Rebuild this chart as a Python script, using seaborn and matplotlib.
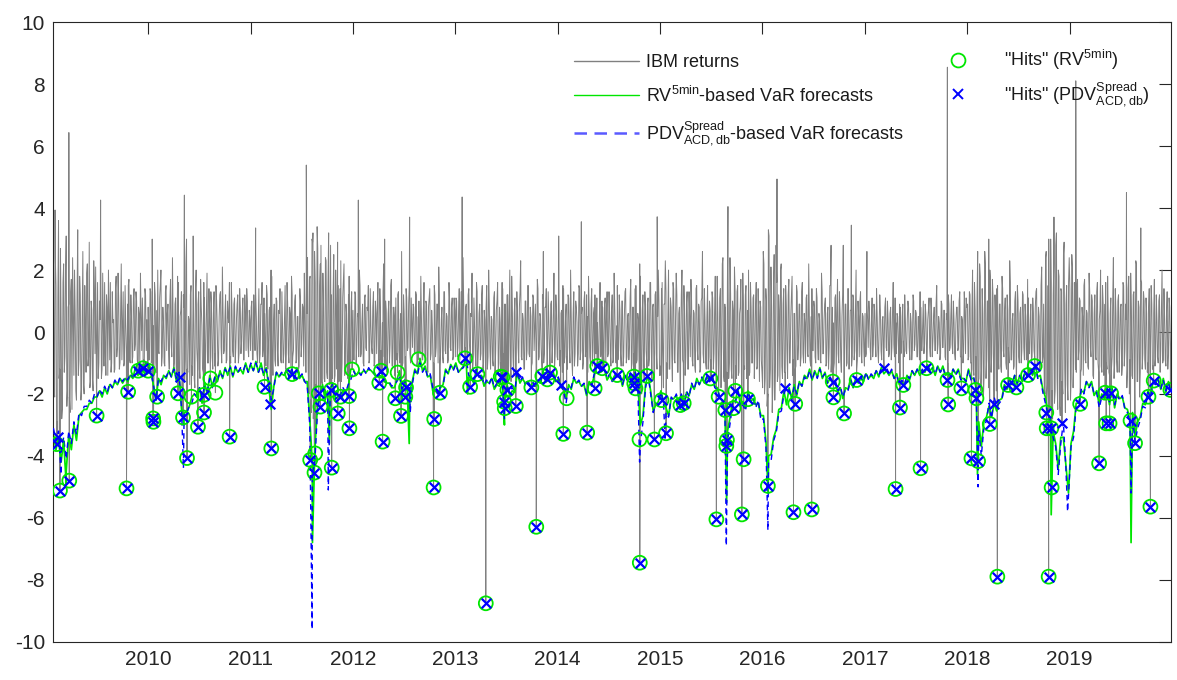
import numpy as np
import pandas as pd
import matplotlib
matplotlib.use("Agg")
import matplotlib.pyplot as plt
from matplotlib.lines import Line2D
import seaborn as sns

# ---------------- data ----------------
X_START, X_END = 2009.074, 2019.99
YEAR_TICKS = [2010, 2011, 2012, 2013, 2014, 2015, 2016, 2017, 2018, 2019]
Y_TICKS = [-10, -8, -6, -4, -2, 0, 2, 4, 6, 8, 10]

# daily returns, sampled (about 80 values per year, two interleaved sets)
ret_2009 = [2.8,-2.1,1.5,-2.9,3.6,-1.2,0.4,-2.5,2.2,-0.8,3.1,-1.9,0.9,-2.6,1.7,2.4,-1.4,0.6,-2.2,3.3,
            -0.9,1.2,-1.8,2.6,-2.0,0.3,1.9,-1.1,2.9,-1.6,0.7,-1.9,1.4,2.1,-0.6,-1.5,1.0,2.5,-1.2,0.2,
            1.6,-1.4,0.8,2.0,-0.9,-1.3,1.3,0.4,-1.2,1.8,-0.5,1.1,-1.0,2.2,0.3,-1.1,1.5,-0.7,0.9,1.7,
            -1.0,0.5,-0.8,1.4,-0.4,1.0,-1.1,0.6,1.9,-0.6,0.2,-1.0,1.2,0.4]
ret_2010 = [0.8,-0.9,1.3,-0.5,0.2,1.6,-1.0,0.7,-0.6,1.1,2.0,-0.8,0.3,-1.1,1.5,0.6,-0.7,1.0,-0.4,2.4,
            -1.2,0.9,-1.4,1.8,-1.0,0.5,1.3,-1.4,0.8,-0.9,3.0,-1.3,0.4,1.2,-1.1,0.7,-1.5,1.4,-0.5,0.9,
            -1.2,1.7,0.2,-1.3,1.1,-0.6,1.9,-1.0,0.4,1.3,-0.8,0.6,-1.1,1.5,0.1,-0.9,1.2,-0.5,2.1,-0.7,
            0.5,-1.0,1.0,0.3,-0.8,1.6,-0.6,0.9,-1.0,0.4,1.2,-0.7,0.8,-0.3,1.1,-0.9,0.6,1.4,-0.5,0.7]
ret_2011 = [-0.6,1.0,-0.9,0.5,1.3,-0.7,0.3,-1.0,0.9,1.6,-0.5,0.6,-1.1,1.2,-0.4,0.8,2.0,-0.8,0.4,-0.9,
            1.1,-0.6,0.7,1.4,-1.0,0.2,-0.7,1.5,-0.5,0.9,-1.0,0.6,1.8,-0.8,0.3,1.2,-0.9,0.5,-1.1,1.0,
            -0.4,0.8,1.9,-1.3,0.6,-1.2,1.7,-2.2,3.0,-2.8,2.6,-1.7,3.4,-2.4,1.5,2.8,-1.7,0.9,-1.6,2.3,
            -1.5,3.2,-1.6,1.2,-1.5,2.5,-1.4,0.8,2.9,-1.6,1.4,-1.6,1.1,2.2,-1.3,0.6,-1.5,1.8,-1.0,1.3]
ret_2012 = [0.7,-0.9,1.2,-0.4,0.5,2.0,-0.8,0.3,-1.0,1.1,-0.5,0.8,1.5,-0.9,0.2,-0.7,1.3,-1.0,0.6,0.9,
            -1.1,1.4,-0.6,0.3,2.2,-1.2,0.7,-0.8,1.0,-0.4,1.7,-1.1,0.5,0.8,-0.9,1.2,-0.6,0.4,2.6,-1.0,
            0.6,-0.8,1.1,-0.5,1.5,-1.0,0.3,0.9,-0.7,1.3,-1.1,0.5,-0.6,1.8,-0.9,0.7,-0.4,1.0,-1.2,0.8,
            1.4,-0.7,0.2,-1.0,1.2,-0.5,0.9,2.1,-1.1,0.4,-0.8,1.3,-0.6,0.6,-1.0,1.6,-0.5,0.8,-0.9,1.1]
ret_2013 = [-0.8,1.0,-0.5,1.4,0.3,-0.7,2.4,-0.6,0.8,-1.0,1.2,-0.4,0.6,1.9,-0.8,0.2,-1.1,1.3,-0.5,0.9,
            -0.7,1.5,-1.0,0.4,0.8,-1.2,2.0,-0.6,0.5,-0.9,1.1,-1.3,0.7,1.6,-1.0,0.3,-1.2,1.4,-0.7,0.9,
            -1.2,1.2,0.4,-1.1,1.8,-0.8,0.6,-1.0,1.3,-0.5,0.8,2.3,-0.9,0.4,-1.2,1.0,-0.6,1.5,-0.8,0.5,
            -1.0,1.1,0.2,-0.7,1.7,-0.9,0.6,-0.5,1.2,-1.0,0.8,1.4,-0.6,0.3,-0.9,1.0,-0.4,1.9,-0.7,0.6]
ret_2014 = [-0.9,1.1,-0.6,0.7,1.5,-1.0,0.4,-0.8,1.2,-0.5,2.0,-0.9,0.6,-1.1,1.0,0.3,-0.7,1.4,-0.6,0.8,
            -1.0,1.3,-0.4,0.5,1.8,-0.8,0.9,-1.1,0.6,1.2,-0.7,0.3,-0.9,1.6,-0.5,0.8,-1.0,1.1,0.4,-0.8,
            1.3,-0.6,0.7,-1.0,1.9,-0.5,0.2,-0.9,1.2,-0.7,1.0,-1.1,0.5,1.4,-0.8,0.6,-0.4,1.7,-1.0,0.8,
            -1.2,1.5,-0.9,0.4,2.2,-1.2,0.7,-1.0,1.3,-0.6,0.9,-1.1,1.6,-0.5,0.8,-0.9,1.2,-0.7,0.5,1.0]
ret_2015 = [-1.1,1.4,-0.6,0.9,2.3,-1.0,0.5,-1.2,1.1,-0.7,1.6,-0.9,0.4,1.2,-1.3,0.8,-0.5,2.0,-1.0,0.6,
            -0.8,1.3,-1.2,0.5,1.7,-0.9,0.7,-1.1,1.4,-0.6,0.9,-1.3,1.0,2.6,-1.0,0.4,-1.2,1.5,-0.8,0.7,
            -1.4,1.1,-0.7,1.8,-1.2,0.6,-1.0,1.4,-0.5,2.4,-1.6,0.8,-1.3,1.9,-1.0,1.2,-1.5,0.7,2.1,-1.1,
            1.3,-1.4,0.6,1.7,-1.0,0.9,-1.2,1.5,-0.7,2.0,-1.3,0.8,-1.0,1.2,-0.6,1.6,-1.1,0.5,1.0,-0.9]
ret_2016 = [-1.8,2.2,-1.5,1.0,-2.0,3.1,-1.2,0.8,-1.7,2.5,-1.0,1.6,-1.4,0.7,2.0,-1.1,0.9,-1.3,1.5,-0.6,
            1.2,-1.0,0.5,1.8,-0.9,0.6,-1.1,1.3,-0.4,0.9,-0.8,1.6,-1.0,0.3,1.1,-0.7,2.2,-0.9,0.5,-0.6,
            1.0,-0.8,1.4,-0.5,0.6,-0.9,1.9,-0.7,0.4,1.1,-1.0,0.8,-0.5,1.5,-0.8,0.3,-1.0,1.2,0.6,-0.7,
            1.3,-0.9,0.5,2.8,-0.6,0.9,-1.0,1.4,-0.4,0.7,-0.8,1.1,-0.6,2.0,-0.9,0.5,1.0,-0.7,0.6,-0.5]
ret_2017 = [0.6,-0.7,0.4,1.0,-0.5,0.3,-0.8,0.9,-0.4,1.4,-0.6,0.2,0.7,-0.9,0.5,-0.3,1.1,-0.6,0.4,-0.7,
            0.8,-0.5,1.6,-0.8,0.3,0.6,-0.4,0.9,-0.7,0.5,-0.3,1.2,-0.6,0.4,0.8,-0.9,0.3,-0.5,1.0,-0.4,
            0.6,-0.8,0.5,1.3,-0.6,0.2,-0.7,0.9,-0.5,0.4,1.1,-0.8,0.6,-0.3,0.8,-0.6,1.5,-0.4,0.3,-0.7,
            0.9,-0.5,0.7,-0.9,0.4,1.2,-0.6,0.5,-0.4,1.0,-0.7,0.3,0.8,-0.5,1.3,-0.8,0.4,-0.6,0.7,1.1]
ret_2018 = [0.9,-0.8,1.2,-1.0,2.0,-1.4,0.7,-1.6,2.6,-1.5,1.8,-1.2,0.6,-1.4,2.2,-0.9,1.0,-1.3,1.6,-0.7,
            1.1,-1.2,0.5,1.4,-0.8,0.9,-1.1,1.8,-0.6,0.7,-1.0,1.2,-0.5,2.3,-0.9,0.4,-1.2,1.0,-0.6,1.5,
            -0.8,0.6,-1.0,1.3,-0.5,0.9,-0.9,1.7,-0.7,0.4,-0.9,1.1,-0.6,0.8,1.4,-0.9,0.5,-1.0,2.1,-0.8,
            -1.8,2.4,-2.2,1.5,-2.6,3.0,-1.9,1.2,-2.3,2.8,-1.5,2.0,-2.4,1.4,-1.6,2.5,-1.2,0.9,-1.7,1.6]
ret_2019 = [1.4,-1.5,2.1,-1.0,0.8,-1.3,1.7,-0.6,1.0,-1.2,0.5,1.5,-0.9,0.7,-1.1,1.9,-0.5,1.2,-1.4,0.6,
            -0.8,1.3,-1.0,0.4,2.0,-1.3,0.9,-0.7,1.6,-1.2,0.5,-1.4,1.1,-0.8,2.4,-1.0,0.6,-1.3,1.2,-0.5,
            0.9,-1.1,1.5,-0.6,0.4,-1.2,1.8,-0.9,0.7,-1.5,1.3,-1.0,2.2,-1.6,0.8,-1.3,1.6,-0.7,1.0,-1.2,
            0.6,-1.0,1.4,-0.5,0.9,-1.1,1.7,-0.8,0.4,-1.0,1.2,-0.6,2.0,-0.9,0.5,-1.1,1.3,-0.7,0.8,-0.9]

# second set of return samples, lying between the first ones
retb_2009 = [-1.8,2.4,-2.6,1.1,-1.5,2.7,-2.8,1.6,-1.3,2.0,-2.4,0.8,-2.1,1.3,-2.5,0.5,2.0,-1.9,1.2,-1.4,
             1.8,-2.2,0.6,-1.7,1.5,-1.3,2.2,-0.8,-1.8,1.0,-1.5,2.3,-0.7,-1.2,1.6,-1.0,0.4,-1.5,1.9,-1.1,
             -0.6,1.2,-1.4,0.5,1.6,-1.0,0.3,-1.3,1.4,-0.8,1.9,-1.2,0.6,-0.9,1.3,-1.0,0.2,-1.1,1.5,-0.9,
             1.2,-1.0,1.1,-0.6,1.3,-0.9,0.8,-1.0,0.5,1.1,-0.9,1.4,-0.6,-1.0]
retb_2010 = [-0.9,1.4,-1.0,0.6,-1.5,1.2,-1.3,2.0,-0.7,1.5,-1.1,0.8,-1.0,1.3,-0.6,0.9,-1.2,1.7,-0.8,0.4,
             -1.0,1.1,-0.9,1.6,-1.3,0.7,-1.8,1.2,-1.6,2.2,-1.2,0.5,-1.7,1.5,-1.4,0.9,-1.8,2.0,-1.0,1.3,
             -1.5,0.8,-1.2,1.6,-1.4,0.6,-1.0,1.4,-1.1,0.9,-1.2,1.3,-0.7,1.0,-1.1,0.5,1.3,-1.0,0.8,-0.6,
             1.2,-0.9,0.5,1.6,-1.0,0.7,-0.8,1.1,-0.5,0.9,-1.0,1.4,-0.7,0.6,-0.9,1.2,-0.6,1.0,-0.8,0.4]
retb_2011 = [0.8,-0.9,1.2,-0.6,0.5,-1.0,1.4,-0.7,0.9,-0.8,1.1,-0.5,1.5,-1.2,0.7,-1.3,1.8,-1.4,0.9,-1.1,
             1.0,-1.1,0.6,-0.9,1.3,-1.0,0.4,-1.2,1.6,-0.7,0.8,-1.1,1.2,-0.6,1.0,-1.0,0.5,-1.2,1.4,-0.8,
             0.9,-1.1,0.6,-1.3,2.4,-2.0,1.8,-2.6,2.9,-2.2,1.6,-2.4,2.7,-1.8,2.2,-1.6,1.9,-1.5,2.4,-1.3,
             1.6,-1.7,2.8,-1.4,1.2,-1.6,2.0,-1.2,1.5,-1.5,2.3,-1.0,1.7,-1.4,0.9,-1.3,1.2,-0.9,0.8,-1.0]
retb_2012 = [-0.9,1.3,-1.0,0.6,-0.8,1.5,-0.7,0.9,-1.1,1.2,-0.6,0.7,-1.0,1.4,-0.5,0.8,-1.1,1.0,-0.7,1.6,
             -0.9,0.5,-1.2,1.3,-0.8,1.0,-1.3,0.6,-1.0,1.5,-1.1,0.8,-1.4,1.1,-0.7,1.3,-1.0,0.6,-1.1,1.2,
             -0.8,1.4,-0.6,0.9,-0.7,1.1,-0.5,0.8,-0.7,1.2,-0.9,1.0,-0.7,0.5,-0.9,1.6,-1.0,0.9,-1.3,1.1,
             -0.9,0.7,-1.0,1.5,-0.8,0.9,-1.0,1.2,-0.6,0.8,-1.0,1.3,-0.7,0.5,-0.9,1.0,-0.6,1.1,-0.8,0.7]
retb_2013 = [1.1,-0.8,0.6,-0.9,1.3,-0.6,0.8,-0.5,0.9,-1.0,1.4,-0.8,0.5,-1.2,1.1,-0.7,1.6,-1.1,0.6,-0.9,
             1.2,-1.3,0.7,-1.0,1.5,-0.8,0.9,-1.2,0.4,-1.1,1.3,-0.6,1.0,-1.3,0.8,-1.0,1.6,-1.5,0.9,-1.7,
             1.2,-1.3,2.0,-1.6,0.8,-1.4,1.1,-1.2,0.7,-1.0,1.3,-0.8,0.6,-1.2,1.0,-0.9,1.5,-0.7,0.8,-1.1,
             1.2,-0.6,0.9,-1.0,1.4,-0.8,0.5,-1.1,1.1,-0.7,0.8,-1.0,1.3,-0.6,0.9,-1.0,0.6,-1.1,1.2,-0.8]
retb_2014 = [1.0,-1.1,0.6,-1.3,1.4,-0.8,0.9,-1.2,1.1,-1.0,0.5,-1.4,1.3,-0.7,0.8,-1.1,1.5,-0.9,0.6,-1.2,
             1.0,-0.8,1.2,-1.3,0.7,-1.0,1.4,-0.6,0.8,-0.7,1.1,-0.9,0.5,-0.8,1.0,-0.6,0.9,-1.0,1.3,-0.7,
             0.6,-1.1,1.2,-0.9,0.8,-1.0,1.5,-0.6,0.7,-1.1,1.0,-0.8,1.3,-1.0,0.5,-0.9,1.1,-1.2,0.8,-0.7,
             1.4,-1.0,0.6,-1.1,1.8,-2.0,1.2,-1.6,0.8,-1.0,1.1,-0.9,1.6,-1.5,0.9,-1.8,1.3,-1.2,2.0,-1.4]
retb_2015 = [-1.4,1.6,-1.8,0.9,1.3,-1.5,2.0,-1.2,0.8,-1.6,1.4,-1.0,1.9,-1.3,0.6,-1.7,1.2,-0.9,1.5,-1.4,
             0.9,-1.2,1.3,-0.8,1.0,-1.1,0.6,-1.3,1.5,-0.9,0.8,-1.2,1.1,-0.7,1.4,-1.0,0.5,-1.2,1.0,-0.9,
             1.3,-1.2,0.7,-1.0,1.8,-1.6,1.1,-1.8,2.2,-1.4,0.9,-2.0,1.6,-1.5,2.4,-1.2,1.0,-1.7,1.3,-1.5,
             1.5,-1.3,0.8,-1.6,1.9,-1.1,1.2,-1.5,0.7,-1.4,1.6,-1.0,1.1,-1.5,0.9,-1.2,1.4,-1.6,0.8,-1.3]
retb_2016 = [2.6,-2.0,1.4,-2.4,3.3,-1.8,2.1,-2.6,1.5,-2.2,2.8,-1.6,1.2,-1.9,2.2,-1.5,1.4,-1.3,0.8,-1.5,
             1.7,-1.0,1.1,-1.4,0.6,-1.2,1.5,-0.9,0.9,-1.1,1.3,-0.7,0.6,-1.0,1.2,-0.8,0.5,-1.1,1.4,-0.6,
             0.8,-1.0,1.1,-0.9,0.4,-1.0,1.3,-0.7,0.9,-1.1,0.6,-1.2,1.5,-1.3,0.8,-1.2,1.1,-1.4,1.7,-1.0,
             0.6,-1.3,1.2,-1.5,0.9,-1.1,1.4,-1.2,0.7,-1.1,1.2,-0.9,0.6,-1.2,1.0,-0.8,1.3,-1.0,0.5,-1.1]
retb_2017 = [-0.8,0.9,-0.5,0.6,-0.9,1.1,-0.4,0.7,-0.8,0.5,-1.0,1.2,-0.6,0.4,-0.9,0.8,-0.5,1.0,-0.8,0.6,
             -0.9,0.7,-0.4,1.1,-0.7,0.5,-1.0,0.8,-0.6,0.9,-0.8,0.4,-0.7,1.0,-0.5,0.6,-0.9,1.2,-0.6,0.7,
             -0.8,0.5,-0.9,0.8,-0.6,1.0,-0.4,0.6,-0.9,0.7,-0.5,1.1,-0.8,0.4,-0.6,0.9,-0.7,0.5,-0.9,1.0,
             -0.5,0.7,-0.8,0.6,-1.0,0.9,-0.5,1.2,-0.7,0.4,-0.9,0.8,-0.6,1.0,-0.8,0.5,-1.0,1.3,-0.7,0.8]
retb_2018 = [-0.9,1.3,-1.0,0.7,-1.2,1.6,-0.8,1.1,-1.6,2.2,-1.9,1.4,-2.1,2.6,-1.5,1.0,-1.8,2.0,-1.3,1.7,
             -1.6,1.2,-1.9,1.5,-1.2,0.9,-1.3,1.4,-0.8,1.1,-1.2,0.7,-1.0,1.6,-0.9,0.6,-1.1,1.3,-0.7,1.0,
             -1.0,0.8,-0.6,1.2,-0.9,0.5,-0.8,1.1,-0.7,0.9,-0.8,0.6,-0.8,1.3,-1.1,0.8,-1.2,1.5,-1.0,0.9,
             -2.0,2.6,-1.7,3.0,-2.4,1.6,-2.8,2.2,-1.9,3.2,-2.5,1.8,-2.7,1.3,-2.0,2.9,-2.6,1.5,-2.2,2.4]
retb_2019 = [-2.2,2.5,-1.8,1.6,-1.2,1.4,-0.9,1.1,-1.3,0.8,-1.4,1.7,-1.0,0.6,-1.2,1.3,-0.8,1.0,-1.5,1.2,
             -0.9,1.6,-1.3,0.7,-1.1,1.5,-1.4,0.9,-1.0,1.8,-1.3,0.6,-1.2,1.1,-1.5,1.4,-0.9,1.0,-1.3,0.8,
             -1.4,1.6,-1.1,0.9,-1.8,1.4,-2.0,1.9,-1.4,1.2,-1.9,2.3,-1.6,1.0,-2.1,1.7,-1.2,1.3,-0.9,1.1,
             -1.3,0.8,-1.0,1.5,-1.2,0.6,-1.1,1.2,-0.8,1.0,-1.3,0.7,-1.0,1.4,-0.9,0.6,-1.2,1.1,-0.8,1.0]

# large positive returns
spike_years = [2009.091, 2009.226, 2009.536, 2010.040, 2010.354, 2010.440, 2011.050, 2011.545,
               2011.610, 2012.053, 2012.310, 2012.554, 2013.067, 2013.860, 2014.010, 2014.231,
               2014.972, 2015.663, 2016.142, 2016.670, 2016.868, 2017.020, 2017.806, 2018.210,
               2018.847, 2019.060, 2019.555, 2019.695]
spike_values = [3.94, 6.44, 4.26, 3.0, 4.42, 3.1, 3.36, 5.39,
                3.2, 4.26, 3.0, 3.71, 4.36, 2.6, 3.1, 3.56,
                3.72, 4.05, 4.94, 2.8, 3.45, 2.6, 8.55, 3.0,
                3.71, 8.11, 4.5, 3.36]

# VaR exceedances ("hits"): b = both models, o = RV only, x = PDV only
hit_years = [2009.107, 2009.117, 2009.139, 2009.230, 2009.497, 2009.789, 2009.805, 2009.903, 2009.951,
             2010.000, 2010.049, 2010.052, 2010.088, 2010.292, 2010.309, 2010.341, 2010.380, 2010.423,
             2010.487, 2010.543, 2010.546, 2010.608, 2010.657, 2010.796,
             2011.137, 2011.193, 2011.203, 2011.407, 2011.583, 2011.625, 2011.632, 2011.667, 2011.683,
             2011.788, 2011.793, 2011.852, 2011.878, 2011.962, 2011.966, 2011.992,
             2012.258, 2012.275, 2012.290, 2012.414, 2012.437, 2012.470, 2012.512, 2012.519, 2012.641,
             2012.788, 2012.794, 2012.850,
             2013.096, 2013.145, 2013.216, 2013.298, 2013.444, 2013.460, 2013.477, 2013.483, 2013.509,
             2013.591, 2013.595, 2013.743, 2013.791, 2013.850, 2013.899, 2013.925,
             2014.029, 2014.055, 2014.088, 2014.288, 2014.361, 2014.386, 2014.435, 2014.581, 2014.744,
             2014.748, 2014.760, 2014.799, 2014.802, 2014.873, 2014.945,
             2015.014, 2015.058, 2015.199, 2015.231, 2015.491, 2015.550, 2015.572, 2015.637, 2015.647,
             2015.653, 2015.718, 2015.735, 2015.799, 2015.816, 2015.858,
             2016.053, 2016.222, 2016.303, 2016.320, 2016.481, 2016.686, 2016.693, 2016.797, 2016.920,
             2017.187, 2017.300, 2017.343, 2017.376, 2017.544, 2017.602, 2017.807, 2017.814, 2017.943,
             2018.041, 2018.080, 2018.090, 2018.106, 2018.220, 2018.262, 2018.294, 2018.399, 2018.480,
             2018.594, 2018.659, 2018.772, 2018.776, 2018.795, 2018.821, 2018.824, 2018.925,
             2019.103, 2019.288, 2019.347, 2019.357, 2019.390, 2019.405, 2019.595, 2019.639, 2019.770,
             2019.789, 2019.821, 2019.984]
hit_values = [-3.62, -3.38, -5.12, -4.80, -2.70, -5.05, -1.93, -1.25, -1.17,
              -1.25, -2.79, -2.90, -2.09, -1.98, -1.46, -2.76, -4.07, -2.09,
              -3.06, -2.03, -2.60, -1.50, -1.96, -3.38,
              -1.77, -2.32, -3.76, -1.36, -4.13, -4.54, -3.92, -1.98, -2.41,
              -1.87, -4.38, -2.63, -2.09, -2.07, -3.11, -1.21,
              -1.64, -1.25, -3.54, -2.14, -1.31, -2.71, -2.09, -1.79, -0.88,
              -5.02, -2.81, -1.96,
              -0.85, -1.77, -1.36, -8.76, -1.44, -1.46, -2.25, -2.46, -1.87,
              -2.39, -1.28, -1.79, -6.29, -1.42, -1.53, -1.31,
              -1.71, -3.29, -2.14, -3.25, -1.82, -1.10, -1.17, -1.39, -1.44,
              -1.66, -1.82, -3.47, -7.45, -1.42, -3.47,
              -2.20, -3.27, -2.36, -2.30, -1.50, -6.05, -2.09, -2.52, -3.68,
              -3.49, -2.46, -1.90, -5.89, -4.11, -2.17,
              -4.97, -1.82, -5.82, -2.32, -5.73, -1.60, -2.11, -2.63, -1.55,
              -1.17, -5.07, -2.44, -1.71, -4.40, -1.17, -1.55, -2.34, -1.82,
              -4.08, -1.87, -2.14, -4.17, -2.97, -2.32, -7.90, -1.71, -1.79,
              -1.39, -1.10, -2.60, -3.11, -7.90, -3.11, -5.02, -2.93,
              -2.32, -4.24, -1.96, -2.95, -2.95, -1.98, -2.86, -3.59, -2.09,
              -5.64, -1.57, -1.87]
hit_kind = ["b", "x", "b", "b", "b", "b", "b", "b", "b",
            "b", "b", "b", "b", "b", "x", "b", "b", "o",
            "b", "b", "b", "o", "o", "b",
            "b", "x", "b", "b", "b", "b", "o", "b", "b",
            "b", "b", "b", "b", "b", "b", "o",
            "b", "b", "b", "b", "o", "b", "b", "b", "o",
            "b", "b", "b",
            "b", "b", "b", "b", "b", "b", "b", "b", "b",
            "b", "x", "b", "b", "b", "b", "b",
            "x", "b", "o", "b", "b", "b", "b", "b", "b",
            "b", "b", "o", "b", "b", "b",
            "b", "b", "b", "b", "b", "b", "b", "b", "b",
            "b", "b", "b", "b", "b", "b",
            "b", "x", "b", "b", "b", "b", "b", "b", "b",
            "x", "b", "b", "b", "b", "b", "b", "b", "b",
            "b", "b", "b", "b", "b", "x", "b", "b", "b",
            "b", "b", "b", "b", "b", "b", "b", "x",
            "b", "b", "b", "b", "b", "b", "b", "b", "b",
            "b", "b", "b"]

# RV(5min)-based VaR forecasts (about 40 values per year)
rv_2009 = [-3.3,-3.8,-3.4,-4.2,-3.5,-4.5,-3.3,-3.8,-3.0,-3.5,-2.7,-2.6,-2.5,-2.5,-2.3,-2.3,-2.1,-2.1,-1.9,-2.1,
           -1.8,-2.0,-1.7,-1.8,-1.6,-1.7,-1.5,-1.65,-1.5,-1.6,-1.4,-1.5,-1.15,-1.4,-1.05,-1.3,-1.0]
rv_2010 = [-1.1,-1.3,-1.7,-2.2,-1.5,-1.7,-1.4,-1.5,-1.25,-1.45,-1.15,-1.6,-1.35,-2.5,-2.6,-2.6,-2.4,-2.1,-2.0,-2.1,
           -1.8,-2.3,-1.65,-2.0,-1.4,-1.75,-1.45,-1.6,-1.25,-1.5,-1.15,-1.4,-1.1,-1.45,-1.15,-1.3,-1.2,-1.35,-1.0,-1.3]
rv_2011 = [-1.05,-1.25,-0.95,-1.3,-1.0,-1.4,-1.15,-1.75,-2.5,-1.75,-1.3,-1.45,-1.35,-1.4,-1.25,-1.45,-1.2,-1.55,-1.15,-1.5,
           -1.4,-1.6,-1.6,-2.8,-4.2,-3.8,-2.4,-2.0,-1.7,-2.2,-1.9,-1.8,-1.7,-2.15,-2.1,-2.0,-1.9,-1.95,-1.8,-1.2]
rv_2012 = [-1.2,-1.4,-1.3,-1.35,-1.25,-1.3,-1.2,-1.25,-1.35,-1.45,-1.35,-1.3,-1.6,-1.65,-1.65,-1.8,-1.8,-1.55,-1.25,-1.95,
           -1.6,-1.75,-1.9,-1.6,-1.2,-1.35,-0.85,-1.25,-1.1,-1.45,-1.4,-1.9,-1.9,-2.0,-1.8,-1.7,-1.2,-1.35,-1.05,-1.2]
rv_2013 = [-1.0,-1.3,-1.2,-1.1,-0.8,-1.45,-1.5,-1.65,-1.2,-1.45,-1.4,-1.75,-1.6,-1.65,-1.5,-1.85,-1.7,-1.75,-1.3,-2.25,
           -1.7,-2.05,-1.9,-1.95,-1.3,-1.65,-1.5,-1.65,-1.6,-1.75,-1.65,-1.75,-1.6,-1.65,-1.3,-1.6,-1.4,-1.3,-1.3,-1.6]
rv_2014 = [-1.5,-1.8,-1.8,-2.15,-1.7,-1.85,-1.5,-1.65,-1.6,-1.75,-1.7,-2.05,-1.6,-1.75,-1.4,-1.1,-1.1,-1.25,-1.2,-1.55,
           -1.4,-1.55,-1.4,-1.4,-1.4,-1.75,-1.4,-1.55,-1.4,-1.55,-1.3,-1.65,-3.0,-2.7,-1.7,-1.4,-1.9,-2.55,-2.35,-2.25]
rv_2015 = [-1.9,-2.25,-2.45,-2.7,-2.15,-2.15,-2.05,-2.3,-2.05,-2.4,-1.95,-2.05,-1.7,-1.85,-1.5,-1.7,-1.5,-1.65,-1.45,-1.6,
           -1.4,-1.75,-1.8,-2.15,-2.2,-2.6,-3.2,-2.75,-2.2,-2.25,-1.85,-2.35,-2.25,-2.45,-1.9,-2.25,-2.15,-2.35,-2.3,-2.7]
rv_2016 = [-2.7,-3.55,-4.0,-3.95,-3.4,-3.15,-2.5,-2.45,-1.9,-2.35,-1.8,-2.15,-1.7,-2.05,-1.6,-1.75,-1.4,-1.5,-1.2,-1.55,
           -1.25,-1.45,-1.15,-1.5,-1.3,-1.65,-1.5,-1.65,-1.6,-1.95,-1.8,-2.15,-1.8,-1.85,-1.5,-1.8,-1.5,-1.65,-1.5,-1.6]
rv_2017 = [-1.35,-1.5,-1.4,-1.5,-1.25,-1.45,-1.15,-1.35,-1.25,-1.4,-1.25,-1.5,-1.35,-1.7,-1.6,-1.75,-1.4,-1.55,-1.25,-1.4,
           -1.2,-1.4,-1.25,-1.3,-1.05,-1.25,-1.15,-1.4,-1.1,-1.3,-1.1,-1.4,-1.35,-1.5,-1.2,-1.35,-1.2,-1.5,-1.5,-1.6]
rv_2018 = [-1.2,-1.5,-1.5,-1.8,-2.9,-3.7,-2.9,-2.75,-2.4,-2.75,-2.3,-2.55,-2.2,-2.15,-1.7,-1.85,-1.5,-1.7,-1.4,-1.7,
           -1.4,-1.6,-1.3,-1.45,-1.2,-1.4,-1.05,-1.45,-1.4,-1.85,-2.1,-2.65,-2.8,-3.2,-3.6,-4.4,-3.4,-3.4,-4.3,-5.2]
rv_2019 = [-3.6,-3.2,-2.3,-2.3,-1.9,-1.95,-1.6,-1.75,-1.6,-2.05,-1.9,-2.35,-2.0,-2.15,-1.8,-2.35,-1.8,-2.45,-2.0,-2.15,
           -2.1,-2.45,-2.5,-2.85,-2.6,-3.35,-2.9,-2.75,-2.3,-2.35,-1.9,-2.05,-1.6,-1.65,-1.5,-1.85,-1.5,-1.95,-1.6,-1.9]
rv_spike_years = [2009.200, 2010.350, 2011.605, 2011.770, 2012.550, 2013.120, 2013.480, 2015.650,
                  2016.055, 2018.100, 2018.820, 2019.600]
rv_spike_values = [-4.9, -3.0, -6.8, -3.6, -3.6, -2.0, -3.0, -5.5,
                   -5.2, -4.6, -5.9, -6.8]

# PDV(Spread, ACD, db)-based VaR forecasts
pdv_2009 = [-3.1,-3.5,-3.2,-3.9,-3.4,-4.1,-3.2,-3.6,-2.9,-3.3,-2.6,-2.7,-2.4,-2.4,-2.2,-2.3,-2.0,-2.1,-1.85,-2.0,
            -1.75,-1.95,-1.65,-1.8,-1.55,-1.7,-1.45,-1.6,-1.45,-1.55,-1.35,-1.45,-1.2,-1.35,-1.0,-1.25,-1.0]
pdv_2010 = [-1.1,-1.25,-1.7,-2.2,-1.5,-1.6,-1.4,-1.45,-1.25,-1.45,-1.2,-1.5,-1.3,-2.5,-2.6,-2.6,-2.4,-2.3,-2.0,-2.1,
            -1.8,-2.1,-1.75,-1.9,-1.5,-1.8,-1.45,-1.55,-1.3,-1.45,-1.2,-1.35,-1.15,-1.4,-1.1,-1.3,-1.15,-1.25,-1.05,-1.3]
pdv_2011 = [-1.0,-1.25,-1.0,-1.3,-1.1,-1.35,-1.2,-1.6,-2.2,-1.8,-1.3,-1.45,-1.3,-1.4,-1.2,-1.45,-1.2,-1.5,-1.2,-1.45,
            -1.35,-1.6,-1.7,-3.0,-4.6,-4.2,-2.6,-2.05,-1.75,-2.1,-2.0,-1.9,-1.65,-2.2,-2.0,-2.05,-1.8,-1.95,-1.7,-1.55]
pdv_2012 = [-1.25,-1.4,-1.3,-1.4,-1.2,-1.35,-1.15,-1.3,-1.3,-1.45,-1.35,-1.3,-1.5,-1.65,-1.6,-1.75,-1.7,-1.6,-1.4,-1.85,
            -1.55,-1.8,-1.8,-1.7,-1.25,-1.4,-1.0,-1.3,-1.15,-1.45,-1.35,-1.8,-1.8,-2.0,-1.75,-1.75,-1.25,-1.35,-1.1,-1.25]
pdv_2013 = [-1.05,-1.3,-1.2,-1.15,-0.8,-1.4,-1.45,-1.6,-1.2,-1.45,-1.35,-1.7,-1.55,-1.7,-1.45,-1.8,-1.65,-1.7,-1.35,-2.15,
            -1.75,-1.95,-1.8,-1.9,-1.25,-1.6,-1.45,-1.7,-1.55,-1.75,-1.6,-1.8,-1.55,-1.65,-1.3,-1.55,-1.35,-1.4,-1.25,-1.6]
pdv_2014 = [-1.45,-1.75,-1.9,-2.3,-1.75,-1.8,-1.45,-1.65,-1.55,-1.75,-1.65,-2.0,-1.6,-1.7,-1.35,-1.1,-1.05,-1.25,-1.15,-1.5,
            -1.35,-1.6,-1.35,-1.45,-1.35,-1.7,-1.4,-1.6,-1.35,-1.55,-1.3,-1.75,-3.6,-2.9,-1.8,-1.4,-2.0,-2.6,-2.3,-2.35]
pdv_2015 = [-1.95,-2.25,-2.6,-2.75,-2.1,-2.2,-2.0,-2.3,-2.0,-2.35,-1.9,-2.1,-1.65,-1.85,-1.55,-1.7,-1.45,-1.65,-1.4,-1.6,
            -1.4,-1.8,-1.85,-2.1,-2.3,-2.7,-3.5,-2.95,-2.3,-2.35,-1.8,-2.45,-2.35,-2.55,-1.95,-2.15,-2.1,-2.45,-2.2,-2.85]
pdv_2016 = [-2.8,-3.75,-4.2,-4.15,-3.5,-3.25,-2.6,-2.55,-2.0,-1.8,-1.85,-2.2,-1.75,-2.0,-1.6,-1.75,-1.45,-1.55,-1.25,-1.55,
            -1.3,-1.5,-1.2,-1.45,-1.35,-1.65,-1.45,-1.6,-1.55,-1.9,-1.75,-2.1,-1.85,-1.9,-1.55,-1.8,-1.45,-1.6,-1.45,-1.6]
pdv_2017 = [-1.3,-1.55,-1.35,-1.45,-1.25,-1.4,-1.15,-1.25,-1.1,-1.4,-1.2,-1.5,-1.4,-1.7,-1.55,-1.7,-1.4,-1.5,-1.25,-1.4,
            -1.2,-1.35,-1.2,-1.3,-1.05,-1.3,-1.15,-1.35,-1.1,-1.3,-1.15,-1.4,-1.3,-1.4,-1.2,-1.4,-1.25,-1.55,-1.45,-1.6]
pdv_2018 = [-1.25,-1.55,-1.45,-1.85,-3.2,-4.0,-3.1,-2.85,-2.3,-2.8,-2.1,-2.4,-2.3,-2.2,-1.75,-1.85,-1.5,-1.7,-1.4,-1.65,
            -1.4,-1.6,-1.3,-1.45,-1.2,-1.4,-1.05,-1.5,-1.45,-1.95,-2.3,-2.65,-2.9,-3.4,-3.7,-4.6,-3.6,-2.9,-4.4,-5.3]
pdv_2019 = [-3.7,-3.4,-2.4,-2.35,-1.85,-2.0,-1.6,-1.8,-1.65,-2.0,-1.95,-2.45,-2.1,-2.1,-1.85,-2.25,-1.85,-2.35,-2.05,-2.2,
            -2.05,-2.5,-2.6,-2.95,-2.8,-3.55,-3.1,-2.85,-2.4,-2.45,-1.95,-2.1,-1.65,-1.7,-1.55,-1.85,-1.55,-1.9,-1.65,-1.95]
pdv_spike_years = [2009.150, 2010.345, 2011.602, 2011.760, 2012.560, 2013.480, 2014.800, 2015.050,
                   2015.647, 2016.053, 2018.106, 2018.980, 2019.600]
pdv_spike_values = [-4.6, -4.4, -9.6, -5.1, -2.6, -2.8, -4.2, -3.5,
                    -6.9, -6.4, -5.0, -5.8, -5.2]

LBL_RET = "IBM returns"
LBL_RV = r"RV$^{\mathrm{5min}}$-based VaR forecasts"
LBL_PDV = r"PDV$^{\mathrm{Spread}}_{\mathrm{ACD,db}}$-based VaR forecasts"
LBL_HIT_RV = r'"Hits" (RV$^{\mathrm{5min}}$)'
LBL_HIT_PDV = r'"Hits" (PDV$^{\mathrm{Spread}}_{\mathrm{ACD,db}}$)'

# ---------------- tables ----------------
def sampled(values, start, end):
    return pd.DataFrame({"year": np.linspace(start, end, len(values)), "v": values})

ret_a = ret_2009 + ret_2010 + ret_2011 + ret_2012 + ret_2013 + ret_2014 + \
    ret_2015 + ret_2016 + ret_2017 + ret_2018 + ret_2019
ret_b = retb_2009 + retb_2010 + retb_2011 + retb_2012 + retb_2013 + retb_2014 + \
    retb_2015 + retb_2016 + retb_2017 + retb_2018 + retb_2019
half = 0.5 * (2019.99 - 2009.075) / (len(ret_a) - 1)
ret_df = pd.concat([sampled(ret_a, 2009.075, 2019.99),
                    sampled(ret_b, 2009.075 + half, 2019.99 + half),
                    pd.DataFrame({"year": spike_years, "v": spike_values}),
                    pd.DataFrame({"year": hit_years, "v": hit_values})]).sort_values("year")

rv_base = rv_2009 + rv_2010 + rv_2011 + rv_2012 + rv_2013 + rv_2014 + \
    rv_2015 + rv_2016 + rv_2017 + rv_2018 + rv_2019
rv_df = pd.concat([sampled(rv_base, 2009.075, 2019.99),
                   pd.DataFrame({"year": rv_spike_years, "v": rv_spike_values})]).sort_values("year")

pdv_base = pdv_2009 + pdv_2010 + pdv_2011 + pdv_2012 + pdv_2013 + pdv_2014 + \
    pdv_2015 + pdv_2016 + pdv_2017 + pdv_2018 + pdv_2019
pdv_df = pd.concat([sampled(pdv_base, 2009.075, 2019.99),
                    pd.DataFrame({"year": pdv_spike_years, "v": pdv_spike_values})]).sort_values("year")

hits = pd.DataFrame({"year": hit_years, "v": hit_values, "kind": hit_kind})
hits_rv = hits[hits["kind"].isin(["b", "o"])]
hits_pdv = hits[hits["kind"].isin(["b", "x"])]

# ---------------- style ----------------
sns.set_theme(style="white")
plt.rcParams["font.family"] = ["Liberation Sans", "DejaVu Sans"]
plt.rcParams["mathtext.fontset"] = "custom"
plt.rcParams["mathtext.rm"] = "Liberation Sans"
plt.rcParams["mathtext.it"] = "Liberation Sans:italic"
plt.rcParams["mathtext.bf"] = "Liberation Sans:bold"

GRAY = "#808080"
GREEN = "#00e600"
BLUE = "#0000ff"
AX_COL = "#262626"

fig = plt.figure(figsize=(11.77, 6.80), dpi=100)
ax = fig.add_axes([53.3 / 1177, 1 - 641.7 / 680, (1171 - 53.3) / 1177, (641.7 - 22.3) / 680])

sns.lineplot(data=ret_df, x="year", y="v", ax=ax, color=GRAY, lw=0.7,
             estimator=None, sort=False, legend=False, zorder=1)
sns.lineplot(data=rv_df, x="year", y="v", ax=ax, color=GREEN, lw=1.25,
             estimator=None, sort=False, legend=False, zorder=2)
sns.lineplot(data=pdv_df, x="year", y="v", ax=ax, color=BLUE, lw=1.0,
             linestyle=(0, (4, 3)), estimator=None, sort=False, legend=False, zorder=3)
sns.scatterplot(data=hits_rv, x="year", y="v", ax=ax, marker="o", s=100,
                facecolor="none", edgecolor=GREEN, linewidth=1.3, zorder=4, legend=False)
sns.scatterplot(data=hits_pdv, x="year", y="v", ax=ax, marker="x", s=48,
                color=BLUE, linewidth=1.6, zorder=5, legend=False)

ax.set_xlim(X_START, X_END)
ax.set_ylim(-10, 10)
ax.set_xticks(YEAR_TICKS)
ax.set_xticklabels([str(y) for y in YEAR_TICKS])
ax.set_yticks(Y_TICKS)
ax.set_yticklabels([str(t) for t in Y_TICKS])
ax.set_xlabel("")
ax.set_ylabel("")
ax.tick_params(direction="in", length=8.5, width=0.8, top=True, right=True,
               labelsize=15, colors=AX_COL, pad=6)
for sp in ax.spines.values():
    sp.set_visible(True)
    sp.set_color(AX_COL)
    sp.set_linewidth(0.8)

line_handles = [
    Line2D([], [], color=GRAY, lw=1.0),
    Line2D([], [], color=GREEN, lw=1.0),
    Line2D([], [], color="#5a5aff", lw=1.8, linestyle=(0, (5, 3))),
]
marker_handles = [
    Line2D([], [], color=GREEN, marker="o", ls="", markerfacecolor="none", markersize=10, mew=1.3),
    Line2D([], [], color=BLUE, marker="x", ls="", markersize=7, mew=1.4),
]
leg1 = ax.legend(line_handles, [LBL_RET, LBL_RV, LBL_PDV], frameon=False, fontsize=13,
                 loc="upper left", bbox_to_anchor=(574 / 1177, 1 - 54 / 680),
                 bbox_transform=fig.transFigure, handlelength=3.6, handletextpad=0.4,
                 labelspacing=0.8, borderpad=0, borderaxespad=0)
ax.add_artist(leg1)
leg2 = ax.legend(marker_handles, [LBL_HIT_RV, LBL_HIT_PDV], frameon=False, fontsize=13,
                 loc="upper left", bbox_to_anchor=(925 / 1177, 1 - 48 / 680),
                 bbox_transform=fig.transFigure, handlelength=3.6, handletextpad=0.8,
                 labelspacing=0.5, borderpad=0, borderaxespad=0)
for lg in (leg1, leg2):
    for t in lg.get_texts():
        t.set_color("#1a1a1a")

fig.savefig("out.png", dpi=100)
